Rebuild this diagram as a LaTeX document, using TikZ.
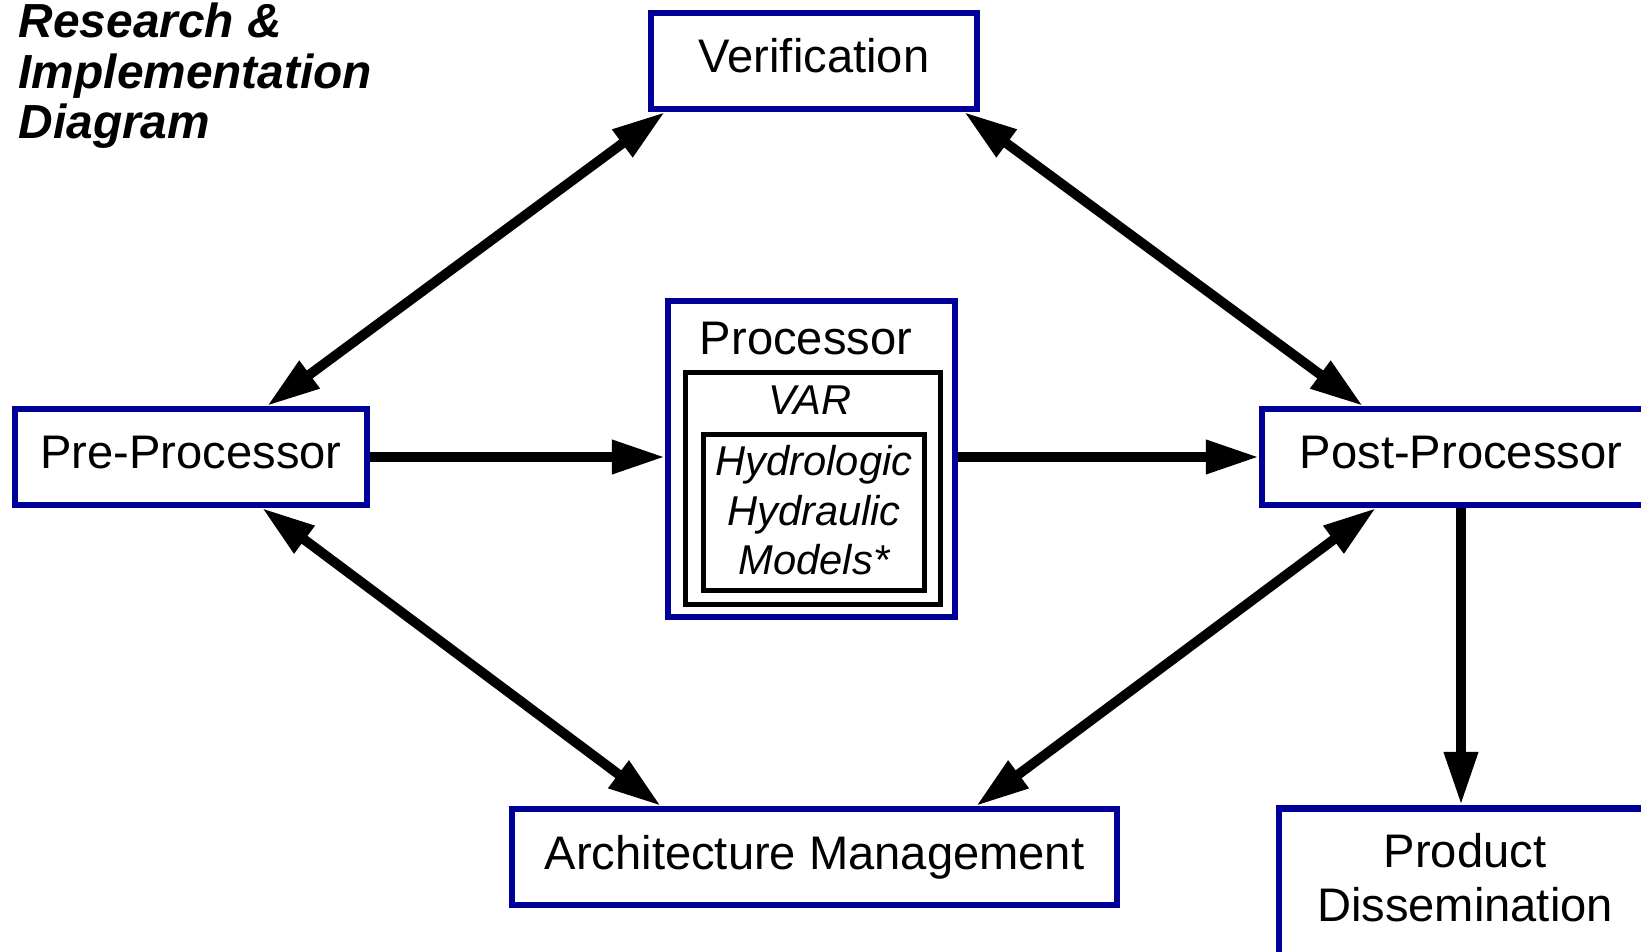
\documentclass[tikz,border=0pt]{standalone}
\usepackage{fontspec}
\setmainfont{Liberation Sans}
\usetikzlibrary{arrows.meta,positioning,calc}
\definecolor{boxblue}{RGB}{0,0,153}
\begin{document}
\begin{tikzpicture}
  [x=0.01cm,y=-0.01cm,
   every node/.style={inner sep=0pt,font=\fontsize{13.4}{15.6}\selectfont},
   bluebox/.style={draw=boxblue,line width=1.85pt,fill=white,text height=0.34cm,text depth=0.1cm},
   blackbox/.style={draw=black,line width=1.5pt},
   modeltext/.style={font=\itshape\fontsize{11.85}{14.2}\selectfont},
   tip/.style={line width=2.8pt},
   both/.style={tip,{Triangle[length=0.53cm,width=0.32cm]}-{Triangle[length=0.53cm,width=0.32cm]}},
   one/.style={tip,-{Triangle[length=0.53cm,width=0.32cm]}}]
  \useasboundingbox (0,0) rectangle (1641,952);
  \node[anchor=base west,align=left,font=\bfseries\itshape\fontsize{13.6}{14.5}\selectfont] (title) at (18,139) {Research \&\\Implementation\\Diagram};

  \node[bluebox,minimum width=3.255cm,minimum height=0.955cm] (ver) at (814,61) {Verification};
  \node[bluebox,minimum width=3.515cm,minimum height=0.955cm] (pre) at (191,457) {Pre-Processor};
  \node[bluebox,minimum width=3.975cm,minimum height=0.955cm] (post) at (1461,457) {Post-Processor};
  \node[bluebox,minimum width=6.045cm,minimum height=0.955cm] (arch) at (814.5,857) {Architecture Management};
  \node[bluebox,minimum width=3.755cm,minimum height=1.8cm,anchor=north] (prod) at (1467,805) {};
  \node[anchor=base,align=center] (prodtxt) at (1465,922) {Product\\Dissemination};

  \node[bluebox,minimum width=2.865cm,minimum height=3.155cm] (proc) at (811.5,459) {};
  \node[anchor=base] (proclbl) at (806,355) {Processor};
  \node[blackbox,minimum width=2.547cm,minimum height=2.317cm] (var) at (813,488.5) {};
  \node[anchor=base,modeltext] (varlbl) at (810,415) {VAR};
  \node[blackbox,minimum width=2.207cm,minimum height=1.557cm] (models) at (814,512.5) {};
  \node[anchor=base,align=center,modeltext] (modlbl) at (814,575) {Hydrologic\\Hydraulic\\Models*};

  \draw[both] ([xshift=0.17cm]ver.south west) -- ([xshift=2.55cm]pre.north west);
  \draw[both] ([xshift=-0.16cm]ver.south east) -- ([xshift=1.04cm]post.north west);
  \draw[both] ([xshift=2.5cm]pre.south west) -- ([xshift=1.52cm]arch.north west);
  \draw[both] ([xshift=1.17cm]post.south west) -- ([xshift=-1.44cm]arch.north east);
  \draw[one] (pre.east) -- (pre.east -| proc.west);
  \draw[one] (post.west -| proc.east) -- (post.west);
  \draw[one] (post.south) -- (post.south |- prod.north);
\end{tikzpicture}
\end{document}
